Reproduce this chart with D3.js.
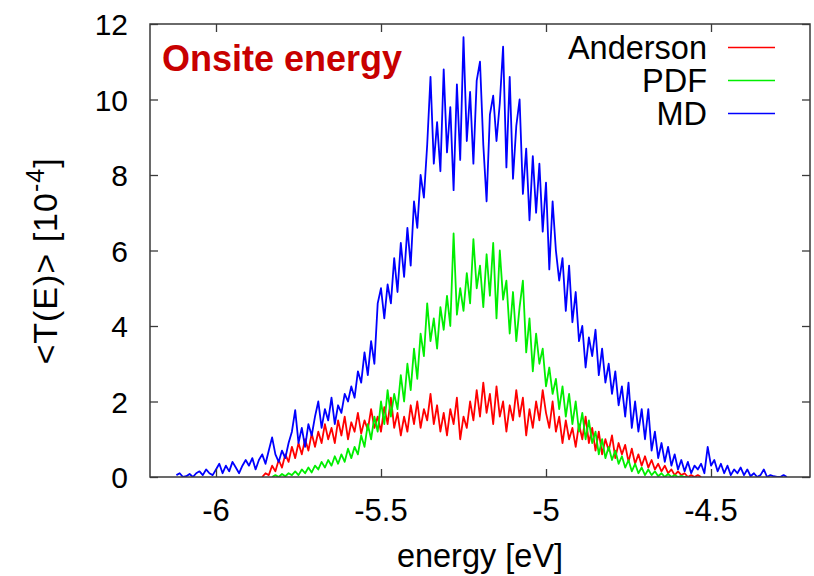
<!DOCTYPE html>
<html lang="en">
<head>
	<meta charset="UTF-8">
	<title>Onsite energy</title>
	<style>
		body { margin: 0; background: #fff; }
		svg text { font-family: "Liberation Sans", Arial, sans-serif; fill: #000; }
	</style>
</head>
<body>
	<svg id="cont" width="814" height="576"></svg>
</body>
<script src="https://cdn.jsdelivr.net/npm/d3@7"></script>
<script>
	// energy grid step (eV) and start of each series
	const eStep = 0.01;
	const andersonStart = -5.86;
	const pdfStart = -5.83;
	const mdStart = -6.12;

	// <T(E)> in units of 1e-4
	const andersonValues = [
		0.0,0.1,0.05,0.3,0.15,0.45,0.25,0.6,0.4,0.8,
		0.5,0.9,0.6,1.0,0.7,1.15,0.8,1.2,0.9,1.4,
		1.0,1.3,0.9,1.5,1.1,1.6,1.0,1.45,1.2,1.7,
		1.15,1.5,1.25,1.8,1.3,1.6,1.2,1.85,1.4,2.1,
		1.3,1.7,1.1,1.6,1.2,1.9,1.4,2.0,1.3,1.8,
		1.5,2.2,1.4,1.9,1.2,1.7,1.1,1.8,1.4,2.1,
		1.0,1.6,1.3,2.0,1.5,2.3,1.6,2.5,1.7,2.2,
		1.4,2.4,1.6,2.0,1.2,1.9,1.5,2.3,1.6,2.1,
		1.1,1.8,1.3,2.0,1.5,2.3,1.7,1.3,2.0,1.2,
		1.6,0.9,1.5,1.0,1.3,0.8,1.4,1.0,1.6,0.9,
		1.3,0.7,1.2,0.6,1.0,0.7,1.1,0.5,0.9,0.6,
		0.85,0.4,0.75,0.35,0.6,0.3,0.55,0.25,0.45,0.2,
		0.35,0.15,0.3,0.1,0.2,0.05,0.15,0.05,0.1,0.0,
		0.05,0.0,0.05,0.0
	];
	const pdfValues = [
		0.0,0.05,0.0,0.08,0.02,0.1,0.05,0.15,0.05,0.2,
		0.1,0.25,0.12,0.3,0.2,0.4,0.25,0.45,0.3,0.55,
		0.35,0.6,0.4,0.75,0.5,0.8,0.6,1.1,0.8,1.4,
		1.0,1.6,1.2,2.0,1.4,2.3,1.6,2.2,1.8,2.7,
		2.0,3.0,2.3,3.4,2.6,3.8,3.2,4.6,3.6,4.2,
		3.4,4.5,3.9,4.8,4.0,6.45,4.3,5.0,4.4,5.4,
		4.6,6.3,5.0,5.6,4.5,5.9,4.8,6.2,4.2,6.0,
		4.7,5.2,3.8,4.9,3.6,4.5,5.2,3.3,4.2,2.8,
		3.8,3.0,3.4,2.4,2.9,2.2,2.6,1.8,2.4,1.6,
		2.2,1.4,2.0,1.2,1.7,1.0,1.5,0.9,1.2,0.6,
		1.0,0.5,0.8,0.45,0.7,0.35,0.55,0.25,0.45,0.15,
		0.35,0.1,0.25,0.05,0.2,0.05,0.15,0.02,0.1,0.0,
		0.08,0.0,0.05,0.0,0.03,0.0,0.0
	];
	const mdValues = [
		0.05,0.1,0,0.02,0.08,0,0.1,0.15,0.05,0.2,0.1,0.05,
		0.2,0.35,0.1,0.3,0.15,0.4,0.25,0.1,0.3,0.45,
		0.3,0.5,0.2,0.45,0.6,0.35,0.7,1.05,0.6,0.4,
		0.7,0.5,0.9,1.2,1.77,0.9,1.3,0.8,1.4,1.1,
		1.6,2.0,1.3,1.8,1.5,2.1,1.4,1.9,1.7,2.2,
		2.0,2.4,2.1,2.8,2.5,3.3,2.7,3.6,3.0,4.6,
		5.0,4.2,5.1,4.6,5.8,4.9,6.2,5.3,6.6,5.6,
		7.3,6.6,8.0,7.4,8.8,10.6,8.3,9.4,8.1,10.8,
		8.6,9.8,7.6,10.4,8.4,11.65,8.9,10.2,8.3,10.5,
		11.0,8.8,7.3,9.6,10.1,8.9,9.9,11.4,8.2,10.6,
		7.9,9.3,10.0,7.5,8.7,6.8,8.5,7.0,8.3,6.5,
		7.8,5.5,7.3,6.0,5.2,5.8,4.4,5.6,4.1,4.9,
		3.6,4.0,2.9,3.7,3.2,3.9,2.7,3.4,2.5,3.0,
		2.2,2.8,1.9,2.4,1.6,2.5,1.3,2.0,1.2,1.8,
		1.0,1.8,0.7,1.2,0.5,0.9,0.4,0.8,0.3,0.6,
		0.2,0.45,0.15,0.4,0.1,0.3,0.2,0.35,0.1,0.8,
		0.3,0.45,0.15,0.35,0.1,0.3,0.05,0.2,0.1,0.25,
		0.05,0.2,0.02,0.1,0,0.05,0.2,0,0.05,0.02,0,0,0.05,0
	];

	const seriesNames = ["Anderson", "PDF", "MD"];
	const seriesColors = ["#ff0000", "#00ee00", "#0000ff"];
	const xTicks = [-6, -5.5, -5, -4.5];
	const yTicks = [0, 2, 4, 6, 8, 10, 12];

	let svg = d3.select("#cont");
	let pLeft = 150, pRight = 810, pTop = 24, pBottom = 477;

	let x = d3.scaleLinear().domain([-6.2, -4.2]).range([pLeft, pRight]);
	let y = d3.scaleLinear().domain([0, 12]).range([pBottom, pTop]);

	function toPoints(start, values) {
		return values.map((v, i) => ({ e: start + i * eStep, v: v }));
	}
	let series = [
		toPoints(andersonStart, andersonValues),
		toPoints(pdfStart, pdfValues),
		toPoints(mdStart, mdValues)
	];

	svg.append("clipPath").attr("id", "clip")
		.append("rect")
		.attr("x", pLeft).attr("y", pTop)
		.attr("width", pRight - pLeft).attr("height", pBottom - pTop);

	let line = d3.line().x(d => x(d.e)).y(d => y(d.v));

	svg.append("g").attr("clip-path", "url(#clip)")
		.selectAll("path")
		.data(series)
		.enter()
		.append("path")
		.attr("d", line)
		.attr("fill", "none")
		.attr("stroke", (d, i) => seriesColors[i])
		.attr("stroke-width", 1.8)
		.attr("stroke-linejoin", "round");

	// axes: ticks point inward on all four sides
	let axisColor = "#3a3a3a";
	svg.append("g").attr("transform", `translate(0,${pBottom})`)
		.call(d3.axisTop(x).tickValues(xTicks).tickSize(8).tickFormat(""));
	svg.append("g").attr("transform", `translate(0,${pTop})`)
		.call(d3.axisBottom(x).tickValues(xTicks).tickSize(8).tickFormat(""));
	svg.append("g").attr("transform", `translate(${pLeft},0)`)
		.call(d3.axisRight(y).tickValues(yTicks).tickSize(8).tickFormat(""));
	svg.append("g").attr("transform", `translate(${pRight},0)`)
		.call(d3.axisLeft(y).tickValues(yTicks).tickSize(8).tickFormat(""));
	svg.selectAll(".domain").remove();
	svg.selectAll(".tick line").attr("stroke", axisColor).attr("stroke-width", 1.3);

	svg.append("rect")
		.attr("x", pLeft).attr("y", pTop)
		.attr("width", pRight - pLeft).attr("height", pBottom - pTop)
		.attr("fill", "none").attr("stroke", axisColor).attr("stroke-width", 1.5);

	// tick labels
	svg.selectAll(".xlab")
		.data(xTicks)
		.enter()
		.append("text")
		.attr("x", d => x(d))
		.attr("y", 521)
		.attr("text-anchor", "middle")
		.attr("font-size", 31)
		.text(d => d);
	svg.selectAll(".ylab")
		.data(yTicks)
		.enter()
		.append("text")
		.attr("x", 128)
		.attr("y", d => y(d) + 11)
		.attr("text-anchor", "end")
		.attr("font-size", 30)
		.text(d => d);

	// axis titles
	svg.append("text")
		.attr("x", (pLeft + pRight) / 2)
		.attr("y", 567)
		.attr("text-anchor", "middle")
		.attr("font-size", 32.5)
		.text("energy [eV]");

	let ylab = svg.append("text")
		.attr("transform", "translate(57,261) rotate(-90)")
		.attr("text-anchor", "middle")
		.attr("font-size", 34)
		.attr("letter-spacing", 1);
	ylab.append("tspan").text("<T(E)> [10");
	ylab.append("tspan").attr("dy", -13).attr("font-size", 25).text("-4");
	ylab.append("tspan").attr("dy", 13).text("]");

	// title
	svg.append("text")
		.attr("x", 162)
		.attr("y", 71)
		.attr("font-size", 36)
		.attr("font-weight", "bold")
		.style("fill", "#c80000")
		.text("Onsite energy");

	// legend
	let legend = svg.append("g")
		.selectAll("g")
		.data(seriesNames)
		.enter()
		.append("g")
		.attr("transform", (d, i) => `translate(0,${47.5 + i * 33})`);
	legend.append("text")
		.attr("x", 707)
		.attr("y", 11.5)
		.attr("text-anchor", "end")
		.attr("font-size", 32.5)
		.text(d => d);
	legend.append("line")
		.attr("x1", 728).attr("x2", 775)
		.attr("y1", 0).attr("y2", 0)
		.attr("stroke", (d, i) => seriesColors[i])
		.attr("stroke-width", 1.6);
</script>
</html>
